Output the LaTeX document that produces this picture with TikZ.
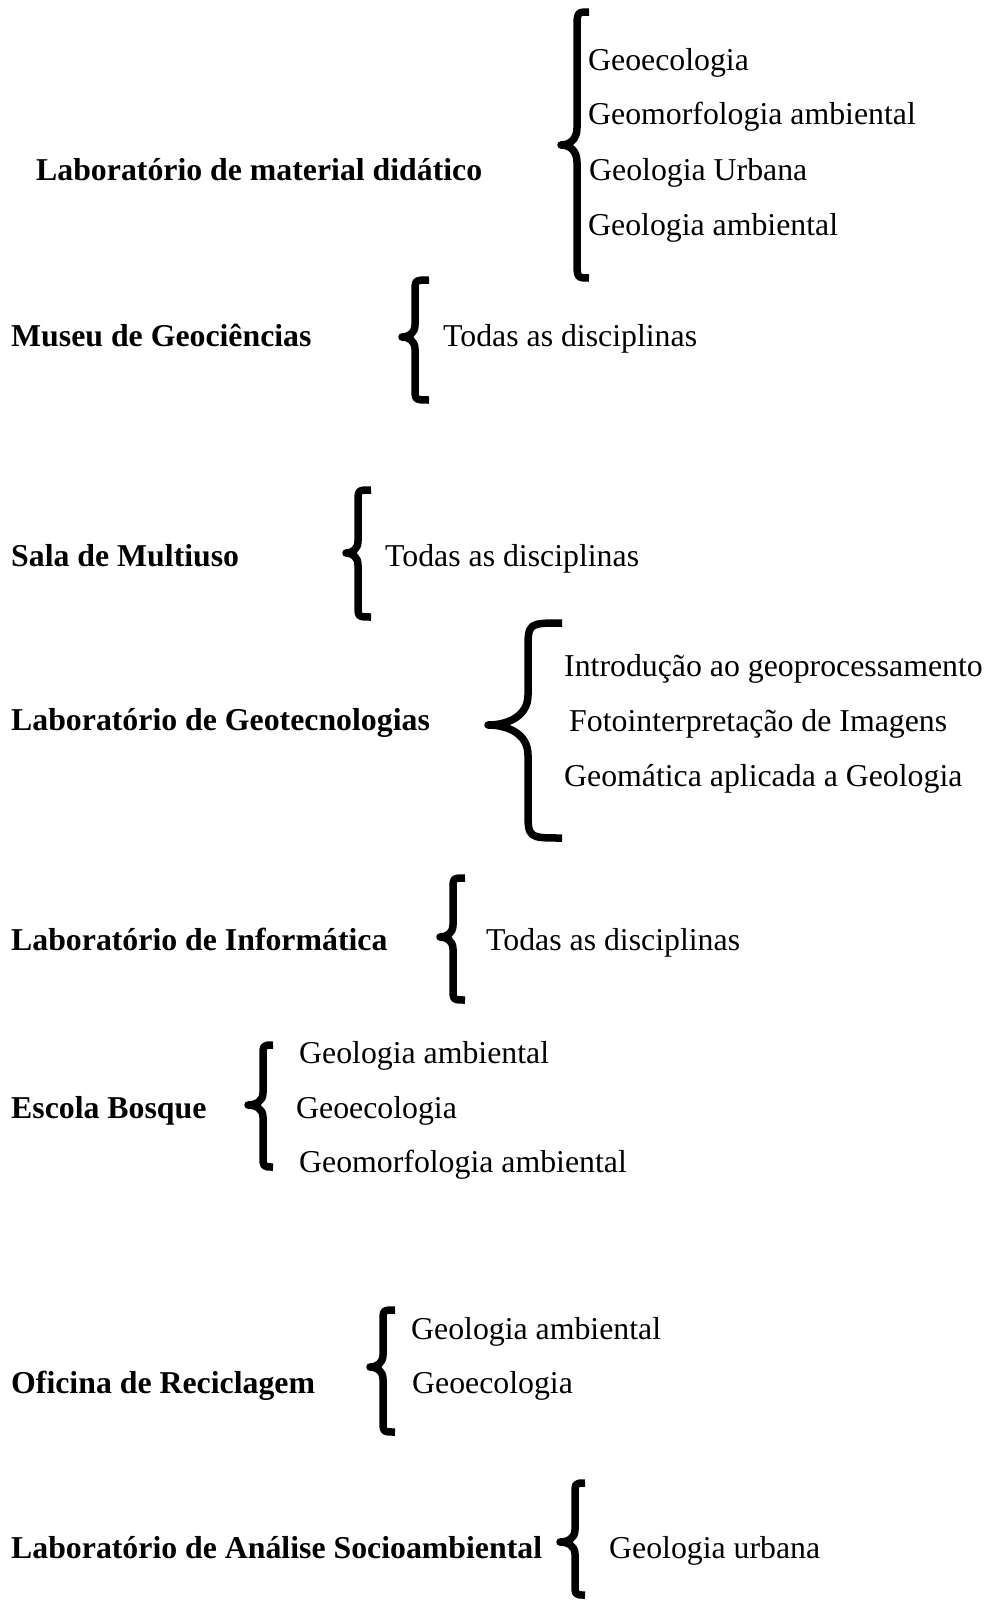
\documentclass[tikz,border=0pt]{standalone}
\usepackage{fontspec}
\setmainfont{Liberation Serif}
\newcommand\curlyb[8]{%
  \draw[bracestyle] (#3,#4) .. controls (#2,#4) .. (#2,{#4+#7}) -- (#2,{#5-#8})
    .. controls (#2,{#5-0.3*#8}) and ({0.5*#1+0.5*#2},#5) .. (#1,#5)
    .. controls ({0.5*#1+0.5*#2},#5) and (#2,{#5+0.3*#8}) .. (#2,{#5+#8})
    -- (#2,{#6-#7}) .. controls (#2,#6) .. (#3,#6);}
\begin{document}
\begin{tikzpicture}[x=1pt,y=-1pt,
  lab/.style={anchor=base west,inner sep=0pt,font=\fontsize{31.8}{38}\selectfont\bfseries},
  item/.style={anchor=base west,inner sep=0pt,font=\fontsize{31.8}{38}\selectfont},
  bracestyle/.style={line width=7.5pt,line join=round}]
\useasboundingbox (0,0) rectangle (987,1601);
% row 1
\node[lab] (l1) at (36,180) {Laboratório de material didático};
\curlyb{561}{577}{589}{12}{145}{278}{18}{17}
\node[item] (i11) at (588,70) {Geoecologia};
\node[item] (i12) at (588,124) {Geomorfologia ambiental};
\node[item] (i13) at (589,180) {Geologia Urbana};
\node[item] (i14) at (588,235) {Geologia ambiental};
% row 2
\node[lab] (l2) at (11,346) {Museu de Geociências};
\curlyb{402}{415}{429}{280}{337}{400}{12}{12}
\node[item] (i21) at (443,346) {Todas as disciplinas};
% row 3
\node[lab] (l3) at (11,566) {Sala de Multiuso};
\curlyb{346}{358}{371}{490}{553}{617}{12}{12}
\node[item] (i31) at (385,566) {Todas as disciplinas};
% row 4
\node[lab] (l4) at (11,730) {Laboratório de Geotecnologias};
\curlyb{488}{528}{562}{623}{725}{838}{28}{30}
\node[item] (i41) at (564,676) {Introdução ao geoprocessamento};
\node[item] (i42) at (569,731) {Fotointerpretação de Imagens};
\node[item] (i43) at (564,786) {Geomática aplicada a Geologia};
% row 5
\node[lab] (l5) at (11,950) {Laboratório de Informática};
\curlyb{440}{453}{465}{878}{937}{1000}{12}{12}
\node[item] (i51) at (486,950) {Todas as disciplinas};
% row 6
\node[lab] (l6) at (11,1118) {Escola Bosque};
\curlyb{248}{263}{273}{1045}{1105}{1167}{12}{12}
\node[item] (i61) at (299,1063) {Geologia ambiental};
\node[item] (i62) at (296,1118) {Geoecologia};
\node[item] (i63) at (299,1172) {Geomorfologia ambiental};
% row 7
\node[lab] (l7) at (11,1393) {Oficina de Reciclagem};
\curlyb{370}{383}{395}{1310}{1367}{1432}{12}{12}
\node[item] (i71) at (411,1339) {Geologia ambiental};
\node[item] (i72) at (412,1393) {Geoecologia};
% row 8
\node[lab] (l8) at (11,1558) {Laboratório de Análise Socioambiental};
\curlyb{560}{575}{585}{1483}{1542}{1595}{12}{12}
\node[item] (i81) at (609,1558) {Geologia urbana};
\end{tikzpicture}
\end{document}
